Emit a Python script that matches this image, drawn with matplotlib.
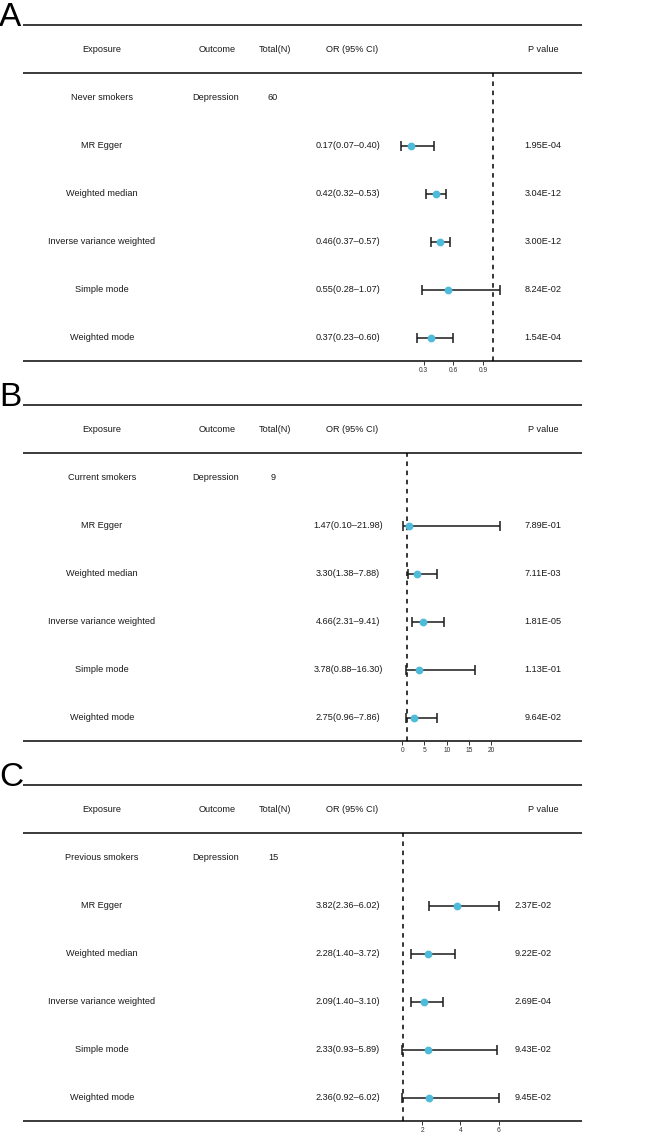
import matplotlib.pyplot as plt

plt.rcParams['font.family'] = ['Liberation Sans', 'DejaVu Sans']

# data
methods = ['MR Egger', 'Weighted median', 'Inverse variance weighted', 'Simple mode', 'Weighted mode']
headers = ['Exposure', 'Outcome', 'Total(N)', 'OR (95% CI)', 'P value']
outcome = 'Depression'

exposure_a = 'Never smokers'
n_a = 60
or_a = [0.17, 0.42, 0.46, 0.55, 0.37]
lo_a = [0.07, 0.32, 0.37, 0.28, 0.23]
hi_a = [0.40, 0.53, 0.57, 1.07, 0.60]
p_a = ['1.95E-04', '3.04E-12', '3.00E-12', '8.24E-02', '1.54E-04']
ticks_a = [0.3, 0.6, 0.9]

exposure_b = 'Current smokers'
n_b = 9
or_b = [1.47, 3.30, 4.66, 3.78, 2.75]
lo_b = [0.10, 1.38, 2.31, 0.88, 0.96]
hi_b = [21.98, 7.88, 9.41, 16.30, 7.86]
p_b = ['7.89E-01', '7.11E-03', '1.81E-05', '1.13E-01', '9.64E-02']
ticks_b = [0, 5, 10, 15, 20]

exposure_c = 'Previous smokers'
n_c = 15
or_c = [3.82, 2.28, 2.09, 2.33, 2.36]
lo_c = [2.36, 1.40, 1.40, 0.93, 0.92]
hi_c = [6.02, 3.72, 3.10, 5.89, 6.02]
p_c = ['2.37E-02', '9.22E-02', '2.69E-04', '9.43E-02', '9.45E-02']
ticks_c = [2, 4, 6]

W, H = 646, 1134
fig = plt.figure(figsize=(W / 100, H / 100), dpi=100)
bg = fig.add_axes([0, 0, 1, 1])
bg.set_xlim(0, W)
bg.set_ylim(H, 0)
bg.axis('off')

TXT = '#1a1a1a'
LINE = '#2b2b2b'
FS = 6.6
col_x = [102, 217, 275, 352, 543]
val_x = [102, 216, 273, 348]

panels = [
    ('A', 25, exposure_a, n_a, or_a, lo_a, hi_a, p_a, ticks_a, (-0.0909, 1.1717), 543),
    ('B', 405, exposure_b, n_b, or_b, lo_b, hi_b, p_b, ticks_b, (-3.87, 24.24), 543),
    ('C', 785, exposure_c, n_c, or_c, lo_c, hi_c, p_c, ticks_c, (0.0575, 6.59), 533),
]

for letter, t, expo, n, est, lo, hi, pv, ticks, xlim, px in panels:
    bg.text(-1, t + 1, letter, fontsize=24, ha='left', va='baseline', color='black')
    for y in (t, t + 48, t + 336):
        bg.plot([23, 582], [y, y], color=LINE, lw=1.3, solid_capstyle='butt')
    for x, h in zip(col_x, headers):
        bg.text(x, t + 25, h, fontsize=FS, ha='center', va='center', color=TXT)

    row0 = t + 73
    bg.text(val_x[0], row0, expo, fontsize=FS, ha='center', va='center', color=TXT)
    bg.text(val_x[1], row0, outcome, fontsize=FS, ha='center', va='center', color=TXT)
    bg.text(val_x[2], row0, str(n), fontsize=FS, ha='center', va='center', color=TXT)
    for i, m in enumerate(methods):
        y = row0 + 48 * (i + 1)
        bg.text(val_x[0], y, m, fontsize=FS, ha='center', va='center', color=TXT)
        bg.text(val_x[3], y, f'{est[i]:.2f}({lo[i]:.2f}\u2013{hi[i]:.2f})',
                fontsize=FS, ha='center', va='center', color=TXT)
        bg.text(px, y, pv[i], fontsize=FS, ha='center', va='center', color=TXT)

    # forest plot area between header line and bottom line
    x0, x1 = 385, 510
    y0, y1 = t + 48, t + 336
    ax = fig.add_axes([x0 / W, 1 - y1 / H, (x1 - x0) / W, (y1 - y0) / H])
    ax.patch.set_alpha(0)
    for s in ax.spines.values():
        s.set_visible(False)
    rows = list(range(1, 6))
    err = [[e - l for e, l in zip(est, lo)], [h - e for e, h in zip(est, hi)]]
    ax.errorbar(est, rows, xerr=err, fmt='o', color='black', ecolor='#1a1a1a',
                elinewidth=1.1, capsize=3.6, capthick=1.1, ms=4.6,
                mfc='#4EBBDA', mec='#4EBBDA', clip_on=False, zorder=3)
    ax.axvline(1, color='black', lw=1.1, ls=(0, (3, 3)), zorder=1)
    ax.set_xlim(*xlim)
    ax.set_ylim((336 - 73) / 48, -25 / 48)
    ax.set_yticks([])
    ax.set_xticks(ticks)
    ax.set_xticklabels([f'{v:g}' for v in ticks])
    ax.tick_params(axis='x', direction='out', length=3, width=0.7,
                   labelsize=4.8, pad=1.2, colors='#333333')

fig.savefig('out.png', dpi=100)
